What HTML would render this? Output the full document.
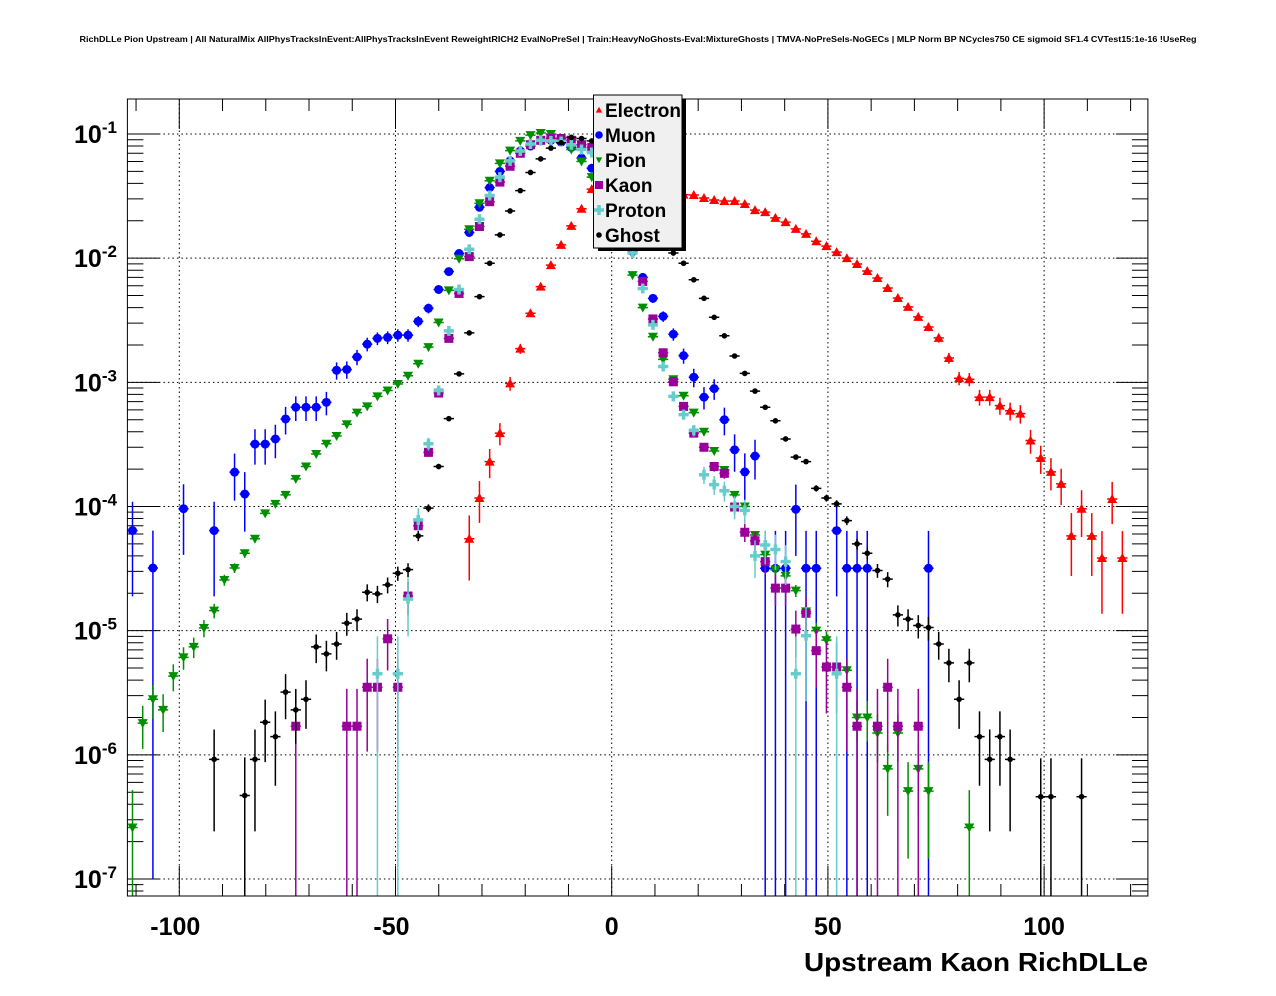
<!DOCTYPE html>
<html><head><meta charset="utf-8"><style>
html,body{margin:0;padding:0;background:#fff;}
svg{display:block;font-family:"Liberation Sans",Arial,sans-serif;}
</style></head><body>
<svg id="chart" width="1276" height="996" viewBox="0 0 1276 996" xmlns="http://www.w3.org/2000/svg">
<rect x="0" y="0" width="1276" height="996" fill="#fff"/>
<text x="638" y="42" text-anchor="middle" font-size="8.6" font-weight="bold" textLength="1117" lengthAdjust="spacingAndGlyphs">RichDLLe Pion Upstream | All NaturalMix AllPhysTracksInEvent:AllPhysTracksInEvent ReweightRICH2 EvalNoPreSel | Train:HeavyNoGhosts-Eval:MixtureGhosts | TMVA-NoPreSels-NoGECs | MLP Norm BP NCycles750 CE sigmoid SF1.4 CVTest15:1e-16 !UseReg</text>
<rect x="127.4" y="99" width="1020.5" height="797" fill="#fff" stroke="none"/>
<g id="grid"></g>
<g id="ticks"></g>
<g id="marks"></g>
<rect x="127.4" y="99" width="1020.5" height="797" fill="none" stroke="#000" stroke-width="1"/>
<g id="labels"></g>
<text x="804" y="971" font-size="26" font-weight="bold" textLength="344" lengthAdjust="spacingAndGlyphs">Upstream Kaon RichDLLe</text>
<g id="legend">
<rect x="598" y="99" width="88" height="152" fill="#000"/>
<rect x="593.5" y="95" width="88.5" height="153" fill="#f0f0f0" stroke="#000" stroke-width="1"/>
</g>
</svg>
<script>
// Binning (x categories): 100 bins from -112 to 124
const binLo = -112;
const binWidth = 2.36;
const nBins = 100;
const xTicks = [-100, -50, 0, 50, 100];
const xTickLabels = ["-100", "-50", "0", "50", "100"];
const yDecades = [-1, -2, -3, -4, -5, -6, -7];
const yTickLabels = ["-1", "-2", "-3", "-4", "-5", "-6", "-7"];
const seriesNames = ["Electron", "Muon", "Pion", "Kaon", "Proton", "Ghost"];

const electronVals = [
0,0,0,0,0,0,0,0,0,0,
0,0,0,0,0,0,0,0,0,0,
0,0,0,0,0,0,0,0,0,0,
0,0,0,5.5e-5,1.17e-4,2.3e-4,3.9e-4,9.8e-4,1.87e-3,3.6e-3,
5.9e-3,8.8e-3,1.28e-2,1.82e-2,2.5e-2,3.6e-2,4.5e-2,5e-2,4.5e-2,3.8e-2,
3.4e-2,3.3e-2,3.2e-2,3.2e-2,3.25e-2,3.23e-2,3.05e-2,2.94e-2,2.89e-2,2.89e-2,
2.73e-2,2.44e-2,2.35e-2,2.11e-2,1.95e-2,1.72e-2,1.57e-2,1.37e-2,1.25e-2,1.12e-2,
1.0e-2,8.98e-3,7.88e-3,6.93e-3,5.75e-3,4.78e-3,4.05e-3,3.37e-3,2.79e-3,2.28e-3,
1.57e-3,1.08e-3,1.06e-3,7.6e-4,7.6e-4,6.5e-4,5.9e-4,5.6e-4,3.4e-4,2.46e-4,
1.9e-4,1.52e-4,5.8e-5,9.6e-5,5.8e-5,3.85e-5,1.15e-4,3.85e-5,0,0];
const muonVals = [
6.4e-5,0,3.2e-5,0,0,9.6e-5,0,0,6.4e-5,0,
1.89e-4,1.26e-4,3.18e-4,3.18e-4,3.5e-4,5.07e-4,6.3e-4,6.3e-4,6.3e-4,6.9e-4,
1.25e-3,1.27e-3,1.6e-3,2.03e-3,2.26e-3,2.3e-3,2.4e-3,2.4e-3,3.1e-3,3.95e-3,
5.6e-3,7.8e-3,1.09e-2,1.61e-2,2.57e-2,3.7e-2,5.0e-2,6.07e-2,7.3e-2,8.0e-2,
8.8e-2,8.9e-2,8.6e-2,7.8e-2,6.4e-2,5.3e-2,4.2e-2,3.1e-2,2.1e-2,1.13e-2,
7e-3,4.75e-3,3.4e-3,2.44e-3,1.64e-3,1.1e-3,7.6e-4,8.9e-4,5.0e-4,2.86e-4,
1.9e-4,2.55e-4,3.18e-5,3.18e-5,3.18e-5,9.5e-5,3.18e-5,3.18e-5,0,6.4e-5,
3.18e-5,3.18e-5,3.18e-5,0,0,0,0,0,3.18e-5,0,
0,0,0,0,0,0,0,0,0,0,
0,0,0,0,0,0,0,0,0,0];
const pionVals = [
2.6e-7,1.8e-6,2.8e-6,2.3e-6,4.3e-6,6.1e-6,7.4e-6,1.05e-5,1.45e-5,2.56e-5,
3.2e-5,4.2e-5,5.5e-5,8.8e-5,1.05e-4,1.24e-4,1.67e-4,2.1e-4,2.65e-4,3.2e-4,
3.7e-4,4.6e-4,5.7e-4,6.4e-4,7.7e-4,8.6e-4,9.7e-4,1.13e-3,1.41e-3,1.92e-3,
3.03e-3,5.5e-3,9.9e-3,1.71e-2,2.77e-2,4.2e-2,5.8e-2,7.35e-2,8.8e-2,9.8e-2,
1.02e-1,1.0e-1,8.8e-2,7.5e-2,6e-2,4.5e-2,3.2e-2,2.2e-2,1.3e-2,7.3e-3,
4.0e-3,2.33e-3,1.53e-3,1.06e-3,7.8e-4,5.7e-4,4.0e-4,2.8e-4,1.97e-4,1.24e-4,
1.0e-4,5.9e-5,4.1e-5,3.1e-5,2.76e-5,2.1e-5,1.43e-5,1.0e-5,8.4e-6,0,
4.8e-6,2.0e-6,2.0e-6,1.5e-6,7.7e-7,1.5e-6,5.1e-7,7.7e-7,5.1e-7,0,
0,0,2.6e-7,0,0,0,0,0,0,0,
0,0,0,0,0,0,0,0,0,0];
const kaonVals = [
0,0,0,0,0,0,0,0,0,0,
0,0,0,0,0,0,1.7e-6,0,0,0,
0,1.7e-6,1.7e-6,3.5e-6,3.5e-6,8.6e-6,3.5e-6,1.9e-5,7e-5,2.73e-4,
8.2e-4,2.26e-3,5.2e-3,1.03e-2,1.8e-2,2.85e-2,4.1e-2,5.5e-2,7.0e-2,8.2e-2,
8.9e-2,9.2e-2,9.2e-2,8.9e-2,8.2e-2,7.8e-2,6.5e-2,4.5e-2,2.5e-2,1.2e-2,
6.5e-3,3.24e-3,1.73e-3,1.01e-3,6.4e-4,3.9e-4,3.0e-4,2.1e-4,1.85e-4,9.9e-5,
6.2e-5,5.3e-5,3.6e-5,2.2e-5,2.2e-5,1.03e-5,1.38e-5,6.9e-6,5.1e-6,5.1e-6,
3.5e-6,1.7e-6,0,1.7e-6,3.5e-6,1.7e-6,0,1.7e-6,0,0,
0,0,0,0,0,0,0,0,0,0,
0,0,0,0,0,0,0,0,0,0];
const protonVals = [
0,0,0,0,0,0,0,0,0,0,
0,0,0,0,0,0,0,0,0,0,
0,0,0,0,4.5e-6,0,4.5e-6,1.8e-5,7.8e-5,3.2e-4,
8.6e-4,2.6e-3,5.6e-3,1.18e-2,2.06e-2,3.2e-2,4.5e-2,6.07e-2,7.3e-2,8.3e-2,
8.9e-2,8.8e-2,8.7e-2,8.2e-2,7.5e-2,7.1e-2,6e-2,4.2e-2,2.3e-2,1.1e-2,
5.7e-3,2.9e-3,1.34e-3,7.7e-4,5.5e-4,4.1e-4,1.8e-4,1.5e-4,1.34e-4,1.0e-4,
9.3e-5,4.0e-5,4.9e-5,4.5e-5,3.6e-5,4.5e-6,9.1e-6,0,0,4.5e-6,
0,0,0,0,0,0,0,0,0,0,
0,0,0,0,0,0,0,0,0,0,
0,0,0,0,0,0,0,0,0,0];
const ghostVals = [
0,0,0,0,0,0,0,0,9.2e-7,0,
0,4.7e-7,9.2e-7,1.83e-6,1.4e-6,3.2e-6,2.3e-6,2.8e-6,7.4e-6,6.5e-6,
7.8e-6,1.15e-5,1.24e-5,2.04e-5,1.98e-5,2.34e-5,2.9e-5,3.1e-5,5.8e-5,9.7e-5,
2.1e-4,5.1e-4,1.17e-3,2.5e-3,4.9e-3,9.1e-3,1.54e-2,2.4e-2,3.5e-2,4.9e-2,
6.3e-2,7.7e-2,8.5e-2,9.4e-2,9.2e-2,8.8e-2,7.8e-2,6e-2,4.2e-2,2.8e-2,
2.0e-2,1.6e-2,1.3e-2,1.1e-2,9.1e-3,6.7e-3,4.75e-3,3.34e-3,2.37e-3,1.63e-3,
1.18e-3,8.5e-4,6.3e-4,4.9e-4,3.5e-4,2.5e-4,2.3e-4,1.4e-4,1.17e-4,1.05e-4,
7.7e-5,5.0e-5,4.2e-5,3.05e-5,2.6e-5,1.34e-5,1.24e-5,1.1e-5,1.06e-5,7.8e-6,
5.5e-6,2.8e-6,5.5e-6,1.4e-6,9.2e-7,1.4e-6,9.2e-7,0,0,4.6e-7,
4.6e-7,0,0,4.6e-7,0,0,0,0,0,0];
// single-entry weights per species (used for Poisson error bars)
const entryWeights = [1.6e-5, 3.18e-5, 2.6e-7, 1.7e-6, 4.5e-6, 5e-7];

const NS = "http://www.w3.org/2000/svg";
const L = 127.4, R = 1147.9, T = 99, B = 896;
const xMin = -112, xMax = 124;
const logMax = -0.718, logMin = -7.137;
function xs(x){ return L + (x - xMin) * (R - L) / (xMax - xMin); }
function ys(v){ return T + (logMax - Math.log10(v)) * (B - T) / (logMax - logMin); }
function ysLog(l){ return T + (logMax - l) * (B - T) / (logMax - logMin); }
function mk(tag, attrs, parent){
  const e = document.createElementNS(NS, tag);
  for (const k in attrs) e.setAttribute(k, attrs[k]);
  parent.appendChild(e);
  return e;
}
const grid = document.getElementById('grid');
const ticks = document.getElementById('ticks');
const labels = document.getElementById('labels');
const marks = document.getElementById('marks');

xTicks.forEach(function(t){
  const g = mk('line', {x1: xs(t), x2: xs(t), y1: T, y2: B, stroke: '#000', 'stroke-width': 1, 'stroke-dasharray': '1.5,3'}, grid);
  
  
});
yDecades.forEach(function(d){
  const g = mk('line', {x1: L, x2: R, y1: ysLog(d), y2: ysLog(d), stroke: '#000', 'stroke-width': 1, 'stroke-dasharray': '1.5,3'}, grid);
  
  
});
for (let t = -110; t <= 120; t += 10) {
  const major = (t % 50 === 0);
  const len = major ? 30 : 12;
  const a = mk('line', {x1: xs(t), x2: xs(t), y1: B, y2: B - len, stroke: '#000', 'stroke-width': 1}, ticks);
  
  
  const b = mk('line', {x1: xs(t), x2: xs(t), y1: T, y2: T + len, stroke: '#000', 'stroke-width': 1}, ticks);
  
  
}
for (let d = -8; d <= -1; d++) {
  for (let m = 1; m <= 9; m++) {
    const l = d + Math.log10(m);
    const y = ysLog(l);
    if (y < T || y > B) continue;
    const len = (m === 1) ? 32 : 16;
    const a = mk('line', {x1: L, x2: L + len, y1: y, y2: y, stroke: '#000', 'stroke-width': 1}, ticks);
    
    
    const b = mk('line', {x1: R, x2: R - len, y1: y, y2: y, stroke: '#000', 'stroke-width': 1}, ticks);
    
    
  }
}
xTicks.forEach(function(t, i){
  const e = mk('text', {x: xs(t) - (t < 0 ? 4 : 0), y: 935, 'text-anchor': 'middle', 'font-size': 25, 'font-weight': 'bold'}, labels);
  e.textContent = xTickLabels[i];
  
  
});
yDecades.forEach(function(d, i){
  const y = ysLog(d);
  const e = mk('text', {x: 74, y: y + 9, 'font-size': 25, 'font-weight': 'bold'}, labels);
  
  
  const t1 = mk('tspan', {}, e);
  t1.textContent = '10';
  const t2 = mk('tspan', {dy: -10, 'font-size': 17}, e);
  t2.textContent = yTickLabels[i];
});

const colors = ['#ff0000', '#0000ff', '#008f00', '#990099', '#66cccc', '#000000'];
const allVals = [electronVals, muonVals, pionVals, kaonVals, protonVals, ghostVals];
function marker(kind, cx, cy, col, parent){
  let e;
  if (kind === 0) e = mk('polygon', {points: (cx-5)+','+(cy+4)+' '+(cx+5)+','+(cy+4)+' '+cx+','+(cy-5), fill: col}, parent);
  else if (kind === 1) e = mk('circle', {cx: cx, cy: cy, r: 4.5, fill: col}, parent);
  else if (kind === 2) e = mk('polygon', {points: (cx-5)+','+(cy-4)+' '+(cx+5)+','+(cy-4)+' '+cx+','+(cy+5), fill: col}, parent);
  else if (kind === 3) e = mk('rect', {x: cx-4.5, y: cy-4.5, width: 9, height: 9, fill: col}, parent);
  else if (kind === 4) e = mk('path', {d: 'M'+(cx-5)+' '+cy+'H'+(cx+5)+'M'+cx+' '+(cy-5)+'V'+(cy+5), stroke: col, 'stroke-width': 3.5, fill: 'none'}, parent);
  else e = mk('circle', {cx: cx, cy: cy, r: 2.8, fill: col}, parent);
  return e;
}
const clipDef = mk('clipPath', {id: 'frameclip'}, document.getElementById('chart'));
mk('rect', {x: L, y: T, width: R - L, height: B - T}, clipDef);
marks.setAttribute('clip-path', 'url(#frameclip)');
allVals.forEach(function(vals, s){
  const g = mk('g', {}, marks);
  
  
  const col = colors[s];
  vals.forEach(function(v, k){
    if (!(v > 0)) return;
    const xc = binLo + binWidth * (k + 0.5);
    const cx = xs(xc), cy = ys(v);
    const sig = Math.sqrt(v * entryWeights[s]);
    const yTop = ys(v + sig);
    const yBot = (v - sig > 1e-9) ? ys(v - sig) : B + 5;
    const eb = mk('path', {d: 'M'+xs(xc - binWidth/2)+' '+cy+'H'+xs(xc + binWidth/2)+'M'+cx+' '+yTop+'V'+Math.min(yBot, B+5), stroke: col, 'stroke-width': 1.5, fill: 'none'}, g);
    
    
    const m = marker(s, cx, cy, col, g);
    
    
  });
});

const legend = document.getElementById('legend');
seriesNames.forEach(function(n, i){
  const y = 110 + 25 * i;
  const g = mk('g', {}, legend);
  
  
  const m = marker(i, 599, y, colors[i], g);
  if (i === 0 || i === 2) m.setAttribute('transform', 'translate(' + (599*0.35) + ',' + (y*0.35) + ') scale(0.65)');
  if (i === 1) m.setAttribute('r', 3.8);
  if (i === 3) { m.setAttribute('x', 595); m.setAttribute('y', y-4); m.setAttribute('width', 8); m.setAttribute('height', 8); }
  
  
  const t = mk('text', {x: 605, y: y + 7, 'font-size': 19, 'font-weight': 'bold'}, g);
  t.textContent = n;
  
  
});
</script>
</body></html>
